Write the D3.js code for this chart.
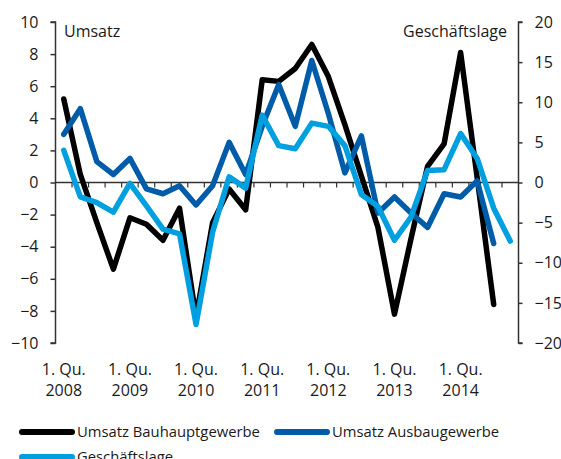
<!DOCTYPE html>
<html>
<head>
<meta charset="utf-8">
<script src="https://cdn.jsdelivr.net/npm/d3@7"></script>
<style>
  body { margin: 0; background: #fff; }
  svg text { font-family: "Open Sans", "Noto Sans", sans-serif; fill: #1a1a1a; }
</style>
</head>
<body>
<svg id="chart" width="561" height="459"></svg>
<script>
// quarters 2008 Q1 .. 2014 Q4
const quarters = ["2008Q1","2008Q2","2008Q3","2008Q4","2009Q1","2009Q2","2009Q3","2009Q4",
                  "2010Q1","2010Q2","2010Q3","2010Q4","2011Q1","2011Q2","2011Q3","2011Q4",
                  "2012Q1","2012Q2","2012Q3","2012Q4","2013Q1","2013Q2","2013Q3","2013Q4",
                  "2014Q1","2014Q2","2014Q3","2014Q4"]
const tickQuarters = ["2008Q1","2009Q1","2010Q1","2011Q1","2012Q1","2013Q1","2014Q1"]
const tickYears = ["2008","2009","2010","2011","2012","2013","2014"]

// Umsatz (left axis, %)
const bauhaupt = [5.2, 0.5, -2.5, -5.4, -2.2, -2.6, -3.6, -1.6, -8.4, -2.5, -0.4, -1.7, 6.4, 6.3,
                  7.1, 8.6, 6.6, 3.6, 0.4, -2.8, -8.2, -3.5, 1.0, 2.4, 8.1, 0.3, -7.6]
const ausbau = [3.0, 4.6, 1.3, 0.5, 1.5, -0.4, -0.7, -0.2, -1.4, -0.2, 2.5, 0.5, 3.5, 6.1,
                3.5, 7.6, 4.3, 0.6, 2.9, -1.9, -0.9, -1.9, -2.8, -0.7, -0.9, 0.1, -3.8]
// Geschäftslage (right axis)
const geschaeft = [4.0, -1.8, -2.5, -3.7, -0.1, -2.9, -5.8, -6.4, -17.7, -6.2, 0.7, -0.7, 8.4, 4.6,
                   4.2, 7.4, 7.0, 4.6, -1.5, -3.0, -7.2, -4.3, 1.5, 1.6, 6.1, 3.0, -3.2, -7.3]

const leftTicks = [-10, -8, -6, -4, -2, 0, 2, 4, 6, 8, 10]
const rightTicks = [-20, -15, -10, -5, 0, 5, 10, 15, 20]

const colBlack = "#000000", colDark = "#005ca9", colLight = "#009fe0"

const svg = d3.select("#chart")
const x0 = 55.5, x1 = 518.5, yTop = 22, yBot = 343

const x = d3.scaleBand().domain(quarters).range([x0, x1])
const yL = d3.scaleLinear().domain([-10, 10]).range([yBot, yTop])
const yR = d3.scaleLinear().domain([-20, 20]).range([yBot, yTop])
const cx = q => x(q) + x.bandwidth() / 2

// left axis
const gL = svg.append("g").attr("transform", `translate(${x0},0)`)
  .call(d3.axisLeft(yL).tickValues(leftTicks).tickSize(5).tickPadding(12).tickFormat(d3.format("d")))
// right axis
const gR = svg.append("g").attr("transform", `translate(${x1},0)`)
  .call(d3.axisRight(yR).tickValues(rightTicks).tickSize(4).tickPadding(12).tickFormat(d3.format("d")))

;[gL, gR].forEach(g => {
  g.select(".domain").attr("stroke", "#333").attr("stroke-width", 1.5)
  g.selectAll(".tick line").attr("stroke", "#333").attr("stroke-width", 1.5)
  g.selectAll(".tick text").attr("font-size", 16).attr("fill", "#1a1a1a")
    .style("font-family", '"Open Sans", "Noto Sans", sans-serif')
})
gL.select(".domain").attr("d", `M-5,${yTop}H0V${yBot}H-5`)
gR.select(".domain").attr("d", `M4,${yTop}H0V${yBot}H4`)

// zero line with category ticks
const y0 = yL(0)
svg.append("line").attr("x1", x0).attr("x2", x1).attr("y1", y0).attr("y2", y0)
  .attr("stroke", "#333").attr("stroke-width", 1.5)
svg.append("g").selectAll("line").data(quarters.slice(1)).join("line")
  .attr("x1", d => x(d)).attr("x2", d => x(d))
  .attr("y1", y0).attr("y2", y0 + 5)
  .attr("stroke", "#333").attr("stroke-width", 1.2)

// x labels
const xl = svg.append("g").selectAll("text").data(tickQuarters).join("text")
  .attr("x", d => cx(d)).attr("text-anchor", "middle").attr("font-size", 16)
xl.append("tspan").attr("x", d => cx(d)).attr("y", 375).text("1. Qu.")
xl.append("tspan").attr("x", d => cx(d)).attr("y", 396).text((d, i) => tickYears[i])

// axis titles
svg.append("text").attr("x", 64).attr("y", 37).attr("font-size", 16).text("Umsatz")
svg.append("text").attr("x", 507).attr("y", 37).attr("font-size", 16)
  .attr("text-anchor", "end").text("Geschäftslage")

// lines
const series = [
  { vals: bauhaupt, scale: yL, color: colBlack },
  { vals: ausbau, scale: yL, color: colDark },
  { vals: geschaeft, scale: yR, color: colLight }
]
series.forEach(s => {
  const line = d3.line().x((d, i) => cx(quarters[i])).y(d => s.scale(d))
  svg.append("path").datum(s.vals).attr("d", line)
    .attr("fill", "none").attr("stroke", s.color).attr("stroke-width", 5.5)
    .attr("stroke-linejoin", "round").attr("stroke-linecap", "round")
})

// legend
const legendItems = [
  { name: "Umsatz Bauhauptgewerbe", color: colBlack, lx: 22, ly: 432 },
  { name: "Umsatz Ausbaugewerbe", color: colDark, lx: 277, ly: 432 },
  { name: "Geschäftslage", color: colLight, lx: 22, ly: 457 }
]
const lg = svg.append("g").selectAll("g").data(legendItems).join("g")
  .attr("transform", d => `translate(${d.lx},${d.ly})`)
lg.append("line").attr("x1", 0).attr("x2", 50).attr("y1", 0).attr("y2", 0)
  .attr("stroke", d => d.color).attr("stroke-width", 6).attr("stroke-linecap", "round")
lg.append("text").attr("x", 55).attr("y", 5).attr("font-size", 14.8).text(d => d.name)
</script>
</body>
</html>
